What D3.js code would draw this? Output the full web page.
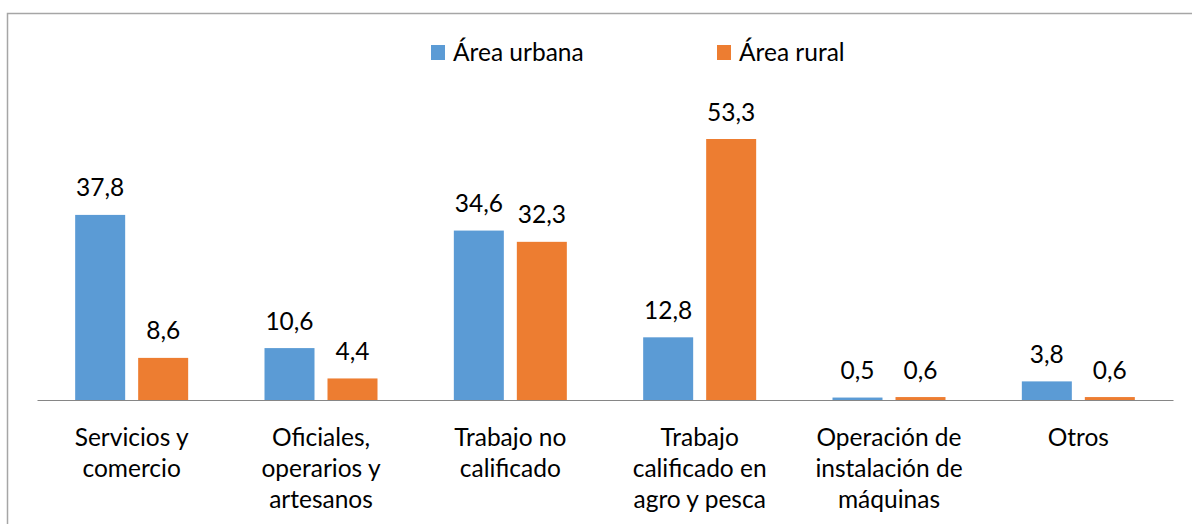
<!DOCTYPE html>
<html><head><meta charset="utf-8">
<script src="https://cdn.jsdelivr.net/npm/d3@7"></script>
<style>body{margin:0;background:#fff}svg{display:block}text{font-family:Lato,"Open Sans",sans-serif;fill:#000}</style>
</head><body><svg id="c" width="1192" height="524"></svg>
<script>
const categories = [["Servicios y","comercio"],["Oficiales,","operarios y","artesanos"],["Trabajo no","calificado"],["Trabajo","calificado en","agro y pesca"],["Operación de","instalación de","máquinas"],["Otros"]];
const seriesNames = ["Área urbana","Área rural"];
const urbana = [37.8,10.6,34.6,12.8,0.5,3.8];
const rural = [8.6,4.4,32.3,53.3,0.6,0.6];
const colors = ["#5b9bd5","#ed7d31"];
const FS = 24.5;

const svg = d3.select("#c");
svg.append("rect").attr("x",7.5).attr("y",13.5).attr("width",1200).attr("height",520)
  .attr("fill","none").attr("stroke","#a6a6a6").attr("stroke-width",1.5);

const x0 = d3.scaleBand().domain(d3.range(categories.length)).range([37,1173]).paddingInner(0).paddingOuter(0);
const y = d3.scaleLinear().domain([0,53.3]).range([400,139]);
const barW = 50, gap = 13;
const series = [urbana, rural];

series.forEach((vals,si)=>{
  const g = svg.append("g");
  vals.forEach((v,i)=>{
    const cx = x0(i)+x0.bandwidth()/2;
    const bx = si===0 ? cx - gap/2 - barW : cx + gap/2;
    g.append("rect").attr("x",bx).attr("y",y(v)).attr("width",barW).attr("height",400-y(v)).attr("fill",colors[si]);
    g.append("text").attr("x",bx+barW/2).attr("y",y(v)-18.5).attr("text-anchor","middle")
      .attr("font-size",FS).text(v.toFixed(1).replace(".",","));
  });
});

const axis = d3.axisBottom(x0).tickSize(0).tickFormat("");
svg.append("g").attr("transform","translate(0,400)").call(axis)
  .call(g=>g.select(".domain").attr("stroke","#868686").attr("stroke-width",1));

categories.forEach((lines,i)=>{
  const cx = x0(i)+x0.bandwidth()/2;
  const t = svg.append("text").attr("text-anchor","middle").attr("font-size",FS);
  lines.forEach((l,j)=>t.append("tspan").attr("x",cx).attr("y",446+j*31).text(l));
});

const legX = [431,717];
seriesNames.forEach((n,i)=>{
  svg.append("rect").attr("x",legX[i]).attr("y",45).attr("width",14).attr("height",15).attr("fill",colors[i]);
  svg.append("text").attr("x",legX[i]+22).attr("y",61).attr("font-size",FS).text(n);
});
</script></body></html>
